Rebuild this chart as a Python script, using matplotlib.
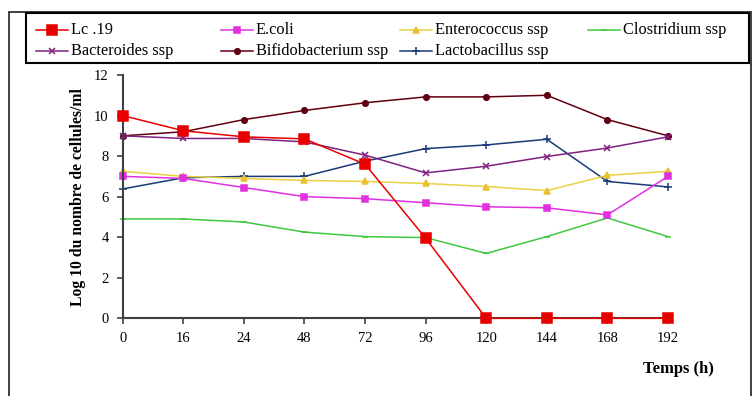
import numpy as np
import matplotlib
matplotlib.use("Agg")
import matplotlib.pyplot as plt
from matplotlib.lines import Line2D
from matplotlib.patches import Rectangle

plt.rcParams['font.family'] = ['Liberation Serif', 'DejaVu Serif']

# sampling times (h) and log10 counts per strain
temps = ['0', '16', '24', '48', '72', '96', '120', '144', '168', '192']
lc19 = [10.0, 9.25, 8.95, 8.85, 7.6, 3.95, 0, 0, 0, 0]
ecoli = [7.0, 6.9, 6.45, 6.0, 5.9, 5.7, 5.5, 5.45, 5.1, 7.0]
enterococcus = [7.25, 7.0, 6.9, 6.8, 6.75, 6.65, 6.5, 6.3, 7.05, 7.25]
clostridium = [4.9, 4.9, 4.75, 4.25, 4.03, 3.98, 3.2, 4.03, 4.95, 4.03]
bacteroides = [9.0, 8.87, 8.87, 8.7, 8.05, 7.17, 7.5, 7.98, 8.4, 8.95]
bifido = [9.0, 9.2, 9.8, 10.25, 10.63, 10.92, 10.92, 11.0, 9.8, 9.0]
lactobacillus = [6.38, 6.93, 7.0, 7.0, 7.75, 8.37, 8.55, 8.83, 6.75, 6.48]

series = [
    ('Lc .19', lc19, '#E80000', 's', 7, '#E80000'),
    ('E.coli', ecoli, '#E030E0', 's', 5, '#E030E0'),
    ('Enterococcus ssp', enterococcus, '#E8D040', '^', 5, '#E8C030'),
    ('Clostridium ssp', clostridium, '#40C840', '_', 5, '#40C840'),
    ('Bacteroides ssp', bacteroides, '#802080', 'x', 5, '#802080'),
    ('Bifidobacterium ssp', bifido, '#600010', 'o', 4, '#600010'),
    ('Lactobacillus ssp', lactobacillus, '#1A3A78', '+', 6, '#1A3A78'),
]

W, H = 752, 396
fig = plt.figure(figsize=(W / 100, H / 100), dpi=100)

def px(x, y):
    # pixel position (from top-left) -> figure fraction
    return x / W, 1 - y / H

l, t = px(122.7, 75)
r, b = px(668, 318.3)
ax = fig.add_axes([l, b, r - l, t - b])

x = np.arange(len(temps))
for name, vals, col, mk, ms, mc in series[::-1]:
    ax.plot(x, vals, color=col, lw=1.1, marker=mk, markersize=ms,
            markerfacecolor=mc, markeredgecolor=mc, markeredgewidth=1.1,
            label=name, clip_on=False,
            zorder=3 if name == 'Lc .19' else 2)

ax.set_xlim(0, len(temps) - 1)
ax.set_ylim(0, 12)
ax.set_xticks(x)
ax.set_xticklabels(temps)
ax.set_yticks(range(0, 13, 2))
ax.tick_params(direction='out', length=4, width=1.2, color='#404040',
               labelsize=10.5, pad=6)
for s in ['top', 'right']:
    ax.spines[s].set_visible(False)
for s in ['left', 'bottom']:
    ax.spines[s].set_color('#404040')
    ax.spines[s].set_linewidth(1.5)

ax.set_ylabel('Log 10 du nombre de cellules/ml', fontsize=11.3, fontweight='bold')
ax.yaxis.set_label_coords(-0.068, 0.5)
fig.text(*px(678, 369), 'Temps (h)', fontsize=12, fontweight='bold',
         ha='center', va='center')

# chart frame and legend box
fig.add_artist(Rectangle(px(9, 400), (751 - 9) / W, (400 - 12) / H,
                         transform=fig.transFigure, fill=False,
                         edgecolor='#303030', lw=1.3))
fig.add_artist(Rectangle(px(26, 63), (749 - 26) / W, (63 - 13) / H,
                         transform=fig.transFigure, fill=False,
                         edgecolor='black', lw=1.5))

# legend laid out in two rows of four columns
col_x = [36, 221, 400, 588]
row_y = [30, 51]
for i, (name, vals, col, mk, ms, mc) in enumerate(series):
    cx = col_x[i % 4]
    cy = row_y[i // 4]
    x0, y0 = px(cx, cy)
    x1, _ = px(cx + 32, cy)
    fig.add_artist(Line2D([x0, x1], [y0, y0], transform=fig.transFigure,
                          color=col, lw=1.1))
    fig.add_artist(Line2D([(x0 + x1) / 2], [y0], transform=fig.transFigure,
                          marker=mk, markersize=ms, color=mc,
                          markeredgewidth=1.1, lw=0))
    fig.text(*px(cx + 35, cy), name, fontsize=11.8, ha='left', va='center')

fig.savefig('out.png', dpi=100)
